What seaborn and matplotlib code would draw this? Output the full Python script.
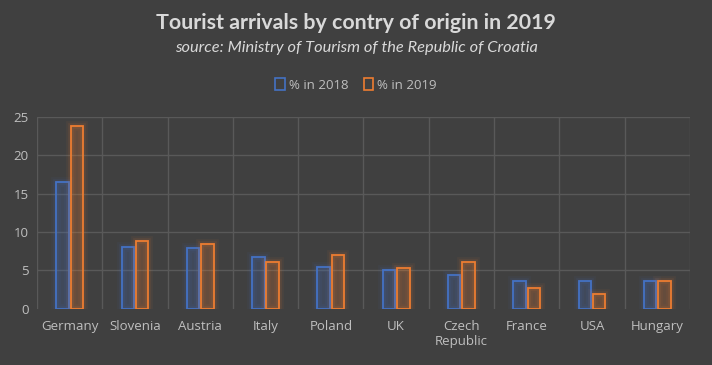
import matplotlib
matplotlib.use("Agg")
import matplotlib.pyplot as plt
import matplotlib.patheffects as pe
from matplotlib.patches import Patch
import seaborn as sns
import pandas as pd
import numpy as np

countries = ["Germany", "Slovenia", "Austria", "Italy", "Poland", "UK",
             "Czech\nRepublic", "France", "USA", "Hungary"]
pct_2018 = [16.6, 8.1, 7.9, 6.7, 5.4, 5.0, 4.4, 3.6, 3.6, 3.6]
pct_2019 = [23.8, 8.9, 8.4, 6.05, 7.0, 5.3, 6.05, 2.7, 1.9, 3.6]
series = ["% in 2018", "% in 2019"]
yticks = [0, 5, 10, 15, 20, 25]

df = pd.DataFrame({
    "country": countries * 2,
    "value": pct_2018 + pct_2019,
    "series": [series[0]] * len(countries) + [series[1]] * len(countries),
})

BG = "#404040"
GRID = "#595959"
TXT = "#bfbfbf"
colors = {"% in 2018": "#4472C4", "% in 2019": "#ED7D31"}

sns.set_theme(style="dark")
plt.rcParams["font.family"] = ["Open Sans", "DejaVu Sans"]

fig = plt.figure(figsize=(7.12, 3.65), dpi=100, facecolor=BG)
ax = fig.add_axes([0.052, 0.154, 0.917, 0.525])
ax.set_facecolor(BG)

sns.barplot(data=df, x="country", y="value", hue="series", palette=colors,
            saturation=1, width=0.44, gap=0.13, ax=ax, legend=False,
            errorbar=None)

for patch in ax.patches:
    c = patch.get_facecolor()
    patch.set_edgecolor(c[:3])
    patch.set_facecolor((c[0], c[1], c[2], 0.08))
    patch.set_linewidth(1.3)
    patch.set_path_effects([
        pe.Stroke(linewidth=7, foreground=c[:3], alpha=0.06),
        pe.Stroke(linewidth=4, foreground=c[:3], alpha=0.10),
        pe.Normal(),
    ])

n = len(countries)
ax.set_xlim(-0.5, n - 0.5)
ax.set_ylim(0, 25)
ax.set_yticks(yticks)
ax.set_yticklabels([str(t) for t in yticks])
for y in yticks[1:]:
    ax.axhline(y, color=GRID, lw=1, zorder=0)
for xb in np.arange(-0.5, n, 1.0):
    ax.axvline(xb, color=GRID, lw=1, zorder=0)
ax.grid(False)
for s in ax.spines.values():
    s.set_visible(False)

ax.tick_params(axis="both", length=0, colors=TXT, labelsize=9.5, pad=8)
ax.tick_params(axis="y", pad=6)
ax.set_xlabel("")
ax.set_ylabel("")
for lbl in ax.get_xticklabels() + ax.get_yticklabels():
    lbl.set_color(TXT)

fig.text(0.5, 0.938, "Tourist arrivals by contry of origin in 2019",
         ha="center", va="center", fontsize=15.4, fontweight="bold",
         color="#d9d9d9", family=["Lato", "DejaVu Sans"])
fig.text(0.5, 0.868, "source: Ministry of Tourism of the Republic of Croatia",
         ha="center", va="center", fontsize=11.8, style="italic",
         color="#d9d9d9", family=["Lato", "DejaVu Sans"])

handles = [Patch(facecolor="none", edgecolor=colors[s], linewidth=1.2, label=s)
           for s in series]
leg = fig.legend(handles=handles, loc="center", bbox_to_anchor=(0.5, 0.768),
                 ncol=2, frameon=False, fontsize=9.5, handlelength=0.7,
                 handleheight=1.1, handletextpad=0.3, columnspacing=1.2)
for t in leg.get_texts():
    t.set_color(TXT)

fig.savefig("out.png", dpi=100, facecolor=BG)
